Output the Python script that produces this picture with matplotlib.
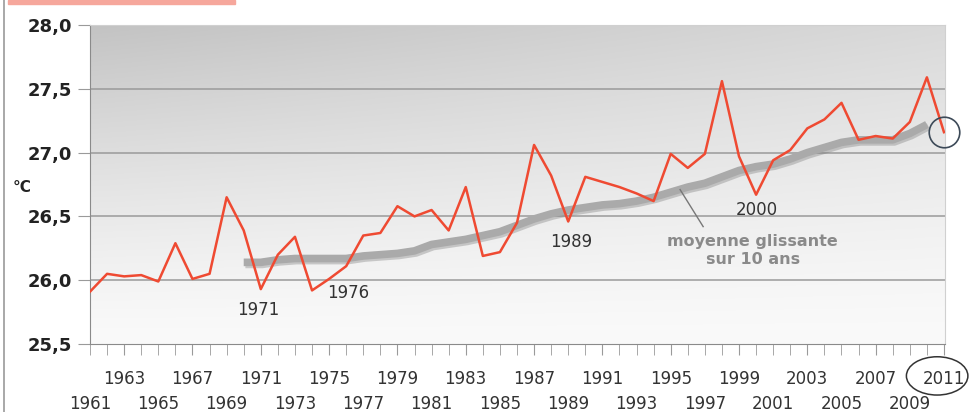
import numpy as np
import matplotlib
matplotlib.use("Agg")
import matplotlib.pyplot as plt
from matplotlib.patches import Ellipse, Rectangle
import matplotlib.patheffects as pe

# annual mean temperature (°C)
years = list(range(1961, 2012))
temps = [25.91, 26.05, 26.03, 26.04, 25.99, 26.29, 26.01, 26.05, 26.65, 26.39,
         25.93, 26.20, 26.34, 25.92, 26.01, 26.11, 26.35, 26.37, 26.58, 26.50,
         26.55, 26.39, 26.73, 26.19, 26.22, 26.45, 27.06, 26.82, 26.46, 26.81,
         26.77, 26.73, 26.68, 26.62, 26.99, 26.88, 26.99, 27.56, 26.97, 26.67,
         26.94, 27.02, 27.19, 27.26, 27.39, 27.10, 27.13, 27.11, 27.24, 27.59,
         27.16]

# 10-year moving average
ma_years = list(range(1970, 2011))
ma_vals = [26.14, 26.14, 26.16, 26.17, 26.17, 26.17, 26.17, 26.19, 26.20, 26.21,
           26.23, 26.28, 26.30, 26.32, 26.35, 26.38, 26.43, 26.48, 26.52, 26.55,
           26.57, 26.59, 26.60, 26.62, 26.65, 26.69, 26.73, 26.76, 26.81, 26.86,
           26.89, 26.91, 26.95, 27.00, 27.04, 27.08, 27.10, 27.10, 27.10, 27.15,
           27.22]

y_ticks = [25.5, 26.0, 26.5, 27.0, 27.5, 28.0]
row1_years = list(range(1963, 2012, 4))   # upper row of labels
row2_years = list(range(1961, 2012, 4))   # lower row of labels

# year labels shown on the chart
notes = [("1971", 1970.85, 25.77), ("1976", 1976.1, 25.90),
         ("1989", 1989.2, 26.30), ("2000", 2000.05, 26.55)]

fig = plt.figure(figsize=(9.71, 4.12), dpi=100)
ax = fig.add_axes([90 / 971, 68 / 412, 855 / 971, 319 / 412])

# gradient background
yy, xx = np.mgrid[0:1:200j, 0:1:200j]
g = 250 - 55 * yy ** 1.3 * (1 - 0.4 * xx)
grad = np.dstack([g, g, g]) / 255.0
ax.imshow(grad, extent=[0, 1, 0, 1], transform=ax.transAxes, origin="lower",
          aspect="auto", zorder=0)

ax.set_xlim(1961, 2011.06)
ax.set_ylim(25.5, 28.0)

for v in y_ticks[1:]:
    ax.axhline(v, color="#9a9a9a", lw=1.1, zorder=1)

# moving average
ax.plot(ma_years, ma_vals, color="#aaaaaa", lw=5.5, solid_capstyle="butt", zorder=2,
        path_effects=[pe.SimpleLineShadow(offset=(1.2, -1.5), shadow_color="#777777", alpha=0.35),
                      pe.Normal()])
# annual series
ax.plot(years, temps, color="#ef4a32", lw=1.8, zorder=3)

# circle on the last value
ax.plot(years[-1], temps[-1], marker="o", ms=22, mfc="none", mec="#3d4a58", mew=1.2,
        clip_on=False, zorder=4)

for txt, x, y in notes:
    ax.text(x, y, txt, ha="center", va="center", fontsize=12, color="#333333", zorder=5)

ax.text(1999.8, 26.23, "moyenne glissante\nsur 10 ans", ha="center", va="center",
        fontsize=11.5, fontweight="bold", color="#8a8a8a", linespacing=1.25, zorder=5)
ax.plot([1995.55, 1996.9], [26.71, 26.42], color="#777777", lw=1, zorder=4)

# ellipse around the 2011 label
ax.add_patch(Ellipse((2010.6, 25.25), 3.6, 0.30, fill=False, ec="#333333", lw=1.1,
                     clip_on=False))

# axes styling
for s in ["top", "right"]:
    ax.spines[s].set_color("#d0d0d0")
ax.spines["left"].set_color("#8a8a8a")
ax.spines["bottom"].set_color("#8a8a8a")

ax.set_yticks(y_ticks)
ax.set_yticklabels([f"{v:.1f}".replace(".", ",") for v in y_ticks],
                   fontsize=13, fontweight="bold", color="#222222")
ax.tick_params(axis="y", length=9, color="#9a9a9a", pad=4)

# upper row on major ticks, every other year (incl. lower row) on minor ticks
minor_years = [yr for yr in years if yr not in row1_years]
ax.set_xticks(row1_years)
ax.set_xticklabels([str(yr) for yr in row1_years], fontsize=12, color="#333333")
ax.set_xticks(minor_years, minor=True)
ax.set_xticklabels([str(yr) if yr in row2_years else "" for yr in minor_years],
                   minor=True, fontsize=12, color="#333333")
ax.tick_params(axis="x", which="major", length=8, color="#9a9a9a", pad=11)
ax.tick_params(axis="x", which="minor", length=8, color="#9a9a9a", pad=29)

fig.text(22 / 971, 1 - 187 / 412, "°C", fontsize=11, fontweight="bold",
         color="#222222", ha="center", va="center")

# frame remnants of the original page
fig.add_artist(plt.Line2D([4 / 971, 4 / 971], [0, 1], color="#9a9a9a", lw=1.2,
                          transform=fig.transFigure))
fig.add_artist(Rectangle((8 / 971, 1 - 4 / 412), 227 / 971, 4 / 412,
                         color="#f6a79c", transform=fig.transFigure))

fig.savefig("out.png", dpi=100)
